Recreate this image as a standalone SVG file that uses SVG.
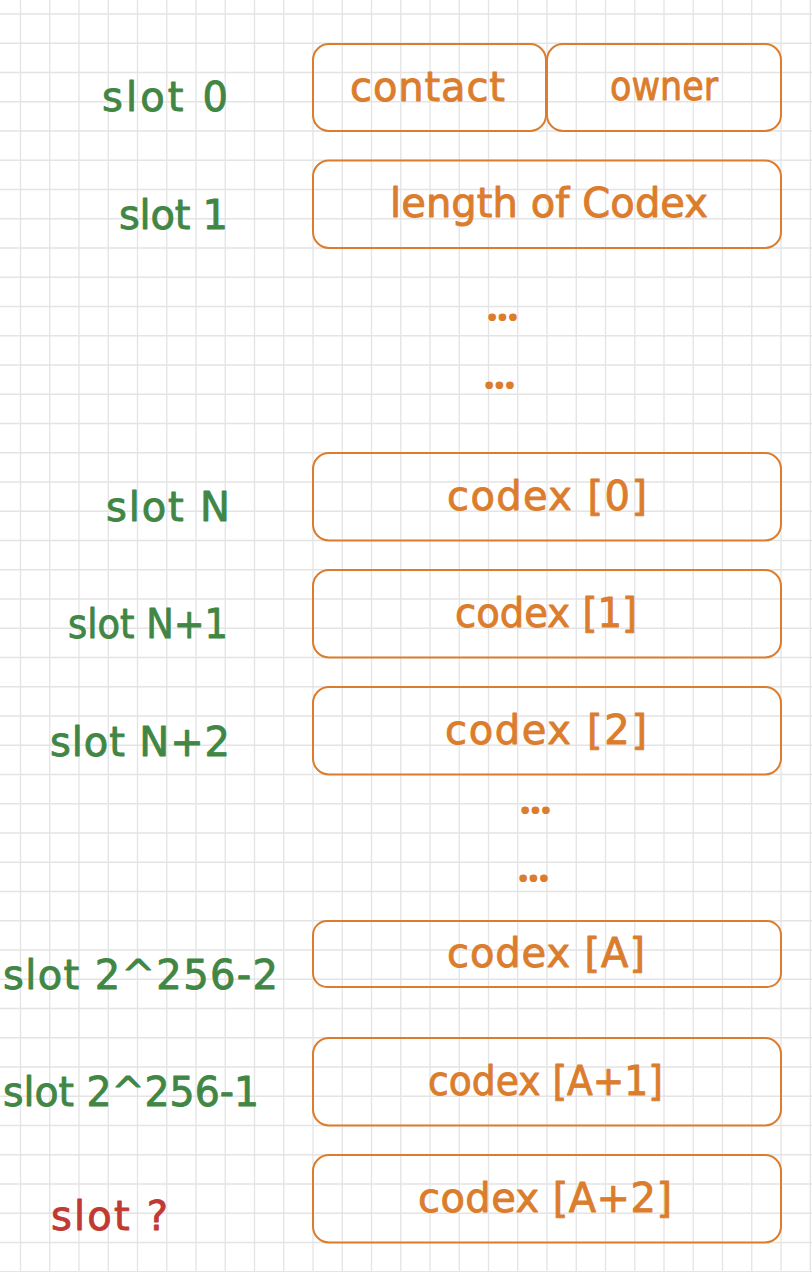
<svg xmlns="http://www.w3.org/2000/svg" width="812" height="1272" viewBox="0 0 812 1272">
<style>
.grid{stroke:#e4e4e4;stroke-width:1.3;fill:none}
.box{fill:none;stroke:#db7d2d;stroke-width:2}
.t{font-family:"DejaVu Sans","Liberation Sans",sans-serif;font-size:40px;stroke-width:0.9;stroke-linejoin:round}
.lbl{fill:#418645;stroke:#418645}
.red{fill:#c13a32;stroke:#c13a32}
.bt{fill:#db7d2d;stroke:#db7d2d}
.dots{font-family:"Noto Sans","Open Sans",sans-serif;font-weight:bold;font-size:44px;fill:#db7d2d}
</style>
<rect width="812" height="1272" fill="#ffffff"/>
<g id="grid">
<path class="grid" d="M20.5 0V1272M49.75 0V1272M79 0V1272M108.25 0V1272M137.5 0V1272M166.75 0V1272M196 0V1272M225.25 0V1272M254.5 0V1272M283.75 0V1272M313 0V1272M342.25 0V1272M371.5 0V1272M400.75 0V1272M430 0V1272M459.25 0V1272M488.5 0V1272M517.75 0V1272M547 0V1272M576.25 0V1272M605.5 0V1272M634.75 0V1272M664 0V1272M693.25 0V1272M722.5 0V1272M751.75 0V1272M781 0V1272M810.25 0V1272
M0 14H812M0 43.25H812M0 72.5H812M0 101.75H812M0 131H812M0 160.25H812M0 189.5H812M0 218.75H812M0 248H812M0 277.25H812M0 306.5H812M0 335.75H812M0 365H812M0 394.25H812M0 423.5H812M0 452.75H812M0 482H812M0 511.25H812M0 540.5H812M0 569.75H812M0 599H812M0 628.25H812M0 657.5H812M0 686.75H812M0 716H812M0 745.25H812M0 774.5H812M0 803.75H812M0 833H812M0 862.25H812M0 891.5H812M0 920.75H812M0 950H812M0 979.25H812M0 1008.5H812M0 1037.75H812M0 1067H812M0 1096.25H812M0 1125.5H812M0 1154.75H812M0 1184H812M0 1213.25H812M0 1242.5H812M0 1271.75H812"/>
</g>
<g id="labels">
<text class="t lbl" x="102" y="111" textLength="126">slot 0</text>
<text class="t lbl" x="119" y="229" textLength="109">slot 1</text>
<text class="t lbl" x="106" y="521" textLength="124">slot N</text>
<text class="t lbl" x="68" y="638" textLength="160" lengthAdjust="spacingAndGlyphs">slot N+1</text>
<text class="t lbl" x="50" y="756" textLength="180">slot N+2</text>
<text class="t lbl" x="3" y="989" textLength="275">slot 2^256-2</text>
<text class="t lbl" x="3" y="1106" textLength="256" lengthAdjust="spacingAndGlyphs">slot 2^256-1</text>
<text class="t red" x="51" y="1230" textLength="117">slot ?</text>
</g>
<g id="contact">
<rect class="box" x="313" y="44" width="233" height="87" rx="16"/>
<text class="t bt" x="350" y="101" textLength="155">contact</text>
</g>
<g id="owner">
<rect class="box" x="547" y="44" width="234" height="87" rx="16"/>
<text class="t bt" x="610" y="100" textLength="108" lengthAdjust="spacingAndGlyphs">owner</text>
</g>
<g id="length">
<rect class="box" x="313" y="160.5" width="468" height="87.5" rx="16"/>
<text class="t bt" x="390" y="217" textLength="318">length of Codex</text>
</g>
<g id="dots1">
<text class="dots" x="486" y="321" textLength="33">...</text>
</g>
<g id="dots2">
<text class="dots" x="483" y="389" textLength="33">...</text>
</g>
<g id="codex0">
<rect class="box" x="313" y="453" width="468" height="87.5" rx="16"/>
<text class="t bt" x="447" y="510" textLength="200">codex [0]</text>
</g>
<g id="codex1">
<rect class="box" x="313" y="570" width="468" height="87.5" rx="16"/>
<text class="t bt" x="455" y="627" textLength="182" lengthAdjust="spacingAndGlyphs">codex [1]</text>
</g>
<g id="codex2">
<rect class="box" x="313" y="687" width="468" height="87.5" rx="16"/>
<text class="t bt" x="445" y="744" textLength="202">codex [2]</text>
</g>
<g id="dots3">
<text class="dots" x="519" y="814" textLength="33">...</text>
</g>
<g id="dots4">
<text class="dots" x="517" y="882" textLength="33">...</text>
</g>
<g id="codexA">
<rect class="box" x="313" y="921" width="468" height="66" rx="14"/>
<text class="t bt" x="447" y="967" textLength="198">codex [A]</text>
</g>
<g id="codexA1">
<rect class="box" x="313" y="1038" width="468" height="87.5" rx="16"/>
<text class="t bt" x="428" y="1095" textLength="235" lengthAdjust="spacingAndGlyphs">codex [A+1]</text>
</g>
<g id="codexA2">
<rect class="box" x="313" y="1155" width="468" height="87.5" rx="16"/>
<text class="t bt" x="418" y="1212" textLength="254">codex [A+2]</text>
</g>
</svg>
